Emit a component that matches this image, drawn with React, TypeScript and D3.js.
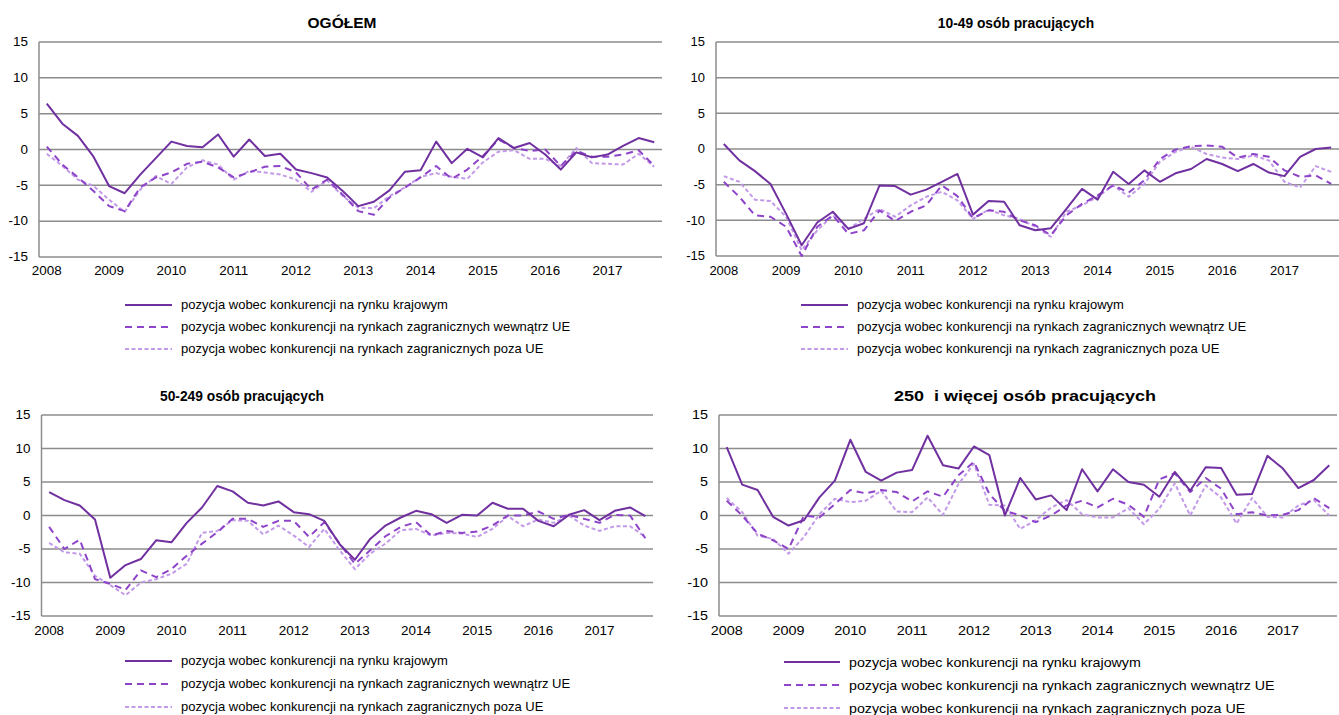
import * as d3 from "d3";

const years = ["2008", "2009", "2010", "2011", "2012", "2013", "2014", "2015", "2016", "2017"];
const quarters = years.flatMap((y) => ["I", "II", "III", "IV"].map((q) => `${q} ${y}`));
const yTicks = [-15, -10, -5, 0, 5, 10, 15];
const seriesNames = [
  "pozycja wobec konkurencji na rynku krajowym",
  "pozycja wobec konkurencji na rynkach zagranicznych wewnątrz UE",
  "pozycja wobec konkurencji na rynkach zagranicznych poza UE",
];

// OGÓŁEM
const ogolemKraj = [6.4, 3.6, 1.9, -1.0, -5.1, -6.1, -3.5, -1.2, 1.1, 0.5, 0.3, 2.1, -1.0, 1.4, -0.9, -0.6, -2.8, -3.3, -3.9, -5.8,
  -7.9, -7.3, -5.7, -3.1, -2.9, 1.1, -1.9, 0.1, -1.1, 1.6, 0.2, 0.9, -0.7, -2.8, -0.4, -1.1, -0.7, 0.5, 1.6, 1.0];
const ogolemUE = [0.4, -2.1, -3.9, -5.8, -7.9, -8.6, -5.3, -3.9, -3.2, -2.0, -1.7, -2.5, -3.9, -3.2, -2.4, -2.3, -3.2, -5.6, -4.2, -6.3,
  -8.6, -9.1, -6.7, -5.3, -3.9, -2.3, -4.1, -2.8, -0.9, 1.4, 0.2, -0.2, 0.0, -2.3, -0.2, -1.0, -1.0, -0.7, -0.1, -2.3];
const ogolemPozaUE = [-0.6, -2.3, -4.2, -5.1, -7.0, -8.7, -5.6, -3.7, -4.8, -2.5, -1.5, -2.1, -4.2, -3.0, -3.2, -3.5, -4.2, -5.9, -4.3, -6.5,
  -8.1, -8.2, -6.5, -5.3, -3.8, -3.3, -3.8, -4.1, -1.8, -0.3, -0.1, -1.3, -1.3, -2.3, 0.2, -1.9, -2.0, -2.1, -0.6, -2.4];

// 10-49 osób pracujących
const maleKraj = [0.7, -1.6, -3.1, -4.9, -9.1, -13.5, -10.3, -8.8, -11.2, -10.4, -5.1, -5.2, -6.4, -5.7, -4.6, -3.5, -9.2, -7.3, -7.4, -10.7,
  -11.4, -11.1, -8.4, -5.6, -7.1, -3.2, -4.9, -3.0, -4.6, -3.4, -2.8, -1.4, -2.1, -3.1, -2.1, -3.3, -3.8, -1.1, 0.0, 0.2];
const maleUE = [-4.6, -6.7, -9.3, -9.5, -10.9, -15.0, -10.9, -9.3, -11.9, -11.4, -8.6, -10.1, -8.8, -7.9, -5.1, -6.6, -9.7, -8.6, -8.8, -10.0,
  -10.7, -12.1, -9.3, -7.7, -6.5, -5.1, -6.1, -4.4, -1.4, -0.1, 0.4, 0.5, 0.3, -1.2, -0.7, -1.1, -3.0, -3.9, -3.7, -4.9];
const malePozaUE = [-3.8, -4.6, -7.1, -7.3, -9.5, -14.2, -11.4, -9.3, -11.2, -9.8, -8.4, -9.5, -7.9, -6.7, -6.0, -7.2, -9.8, -8.5, -9.3, -9.8,
  -10.9, -12.3, -8.8, -7.9, -6.7, -5.1, -6.7, -4.9, -1.8, -0.4, 0.3, -0.7, -1.2, -1.4, -0.9, -1.6, -4.6, -5.4, -2.4, -3.2];

// 50-249 osób pracujących
const srednieKraj = [3.5, 2.3, 1.5, -0.6, -9.3, -7.4, -6.5, -3.7, -4.0, -1.1, 1.2, 4.4, 3.6, 1.9, 1.5, 2.1, 0.5, 0.2, -0.8, -4.3,
  -6.6, -3.5, -1.5, -0.3, 0.7, 0.2, -1.1, 0.1, 0.0, 1.9, 1.0, 1.0, -0.8, -1.6, 0.1, 0.8, -0.7, 0.7, 1.2, -0.1];
const srednieUE = [-1.7, -5.0, -3.6, -9.5, -10.2, -11.1, -8.2, -9.2, -8.0, -6.0, -4.2, -2.5, -0.5, -0.5, -1.7, -0.8, -0.8, -3.2, -1.0, -4.2,
  -7.2, -5.2, -3.1, -1.7, -1.0, -3.0, -2.3, -2.6, -2.4, -1.5, 0.0, 0.0, 0.6, -0.5, 0.1, -0.5, -1.1, 0.1, 0.0, -3.4];
const sredniePozaUE = [-4.1, -5.5, -5.7, -9.0, -10.4, -11.9, -10.0, -9.5, -8.7, -7.2, -2.6, -2.3, -0.7, -0.8, -2.8, -1.5, -3.0, -4.7, -2.0, -5.2,
  -8.0, -5.7, -4.2, -2.2, -2.0, -3.0, -2.6, -2.7, -3.2, -2.0, -0.1, -1.6, -0.6, -1.1, 0.0, -1.5, -2.3, -1.6, -1.6, -3.2];

// 250 i więcej osób pracujących
const duzeKraj = [10.2, 4.6, 3.8, -0.2, -1.5, -0.7, 2.7, 5.2, 11.3, 6.5, 5.2, 6.4, 6.8, 11.9, 7.5, 7.0, 10.3, 9.0, 0.0, 5.6,
  2.4, 3.0, 0.8, 6.9, 3.6, 6.9, 5.0, 4.6, 2.8, 6.5, 3.7, 7.2, 7.1, 3.1, 3.2, 8.9, 7.0, 4.1, 5.3, 7.5];
const duzeUE = [2.2, 0.0, -2.7, -3.7, -5.0, 0.0, -0.3, 1.7, 3.8, 3.3, 3.8, 3.5, 2.1, 3.6, 2.8, 6.0, 8.0, 3.2, 0.7, 0.0,
  -1.0, 0.0, 1.5, 2.2, 1.2, 2.5, 1.6, -0.2, 5.4, 6.3, 3.5, 5.6, 4.0, 0.2, 0.5, 0.0, 0.1, 0.8, 2.6, 1.1];
const duzePozaUE = [2.6, 0.5, -3.0, -3.5, -5.7, -3.2, 0.2, 2.5, 2.0, 2.2, 3.7, 0.6, 0.5, 2.7, 0.1, 4.7, 7.7, 1.6, 1.5, -2.0,
  -0.7, 1.2, 2.3, 0.2, -0.3, -0.3, 1.1, -1.3, 1.0, 4.8, 0.0, 4.5, 2.7, -1.2, 2.6, -0.2, -0.3, 1.5, 2.3, 0.0];

const seriesStyles = [
  { color: "#7030a0", dash: "none" },
  { color: "#8e44c9", dash: "7,5" },
  { color: "#c39ae8", dash: "4,2.5" },
];

const FONT = "'Liberation Sans', Arial, Helvetica, sans-serif";

interface TextStyle {
  size: number;
  sx: number;
}

interface PanelProps {
  title: string;
  series: number[][];
  left: number;
  right: number;
  top: number;
  bottom: number;
  titleX: number;
  titleY: number;
  titleFont: TextStyle;
  tickFont: TextStyle;
  legendFont: TextStyle;
  legendX: number;
  legendLineW: number;
  legendYs: number[];
  labelY: number;
}

// text squeezed/stretched horizontally like the source image
function T(props: {
  x: number;
  y: number;
  f: TextStyle;
  anchor?: string;
  bold?: boolean;
  dy?: string;
  children: any;
}) {
  return (
    <text
      transform={`translate(${props.x},${props.y}) scale(${props.f.sx},1)`}
      textAnchor={props.anchor || "start"}
      fontSize={props.f.size}
      fontWeight={props.bold ? "bold" : "normal"}
      dy={props.dy}
      fill="#000"
      style={{ whiteSpace: "pre" }}
    >
      {props.children}
    </text>
  );
}

function Panel(p: PanelProps) {
  const x = d3.scalePoint<string>().domain(quarters).range([p.left, p.right]).padding(0.5);
  const y = d3.scaleLinear().domain([-15, 15]).range([p.bottom, p.top]);
  const line = d3
    .line<number>()
    .x((_, i) => x(quarters[i]) as number)
    .y((d) => y(d));

  return (
    <g>
      <T x={p.titleX} y={p.titleY} f={p.titleFont} anchor="middle" bold>
        {p.title}
      </T>
      {/* gridlines */}
      {yTicks.map((t) => (
        <line key={t} x1={p.left} x2={p.right} y1={y(t)} y2={y(t)} stroke="#8c8c8c" strokeWidth={1.5} />
      ))}
      <line x1={p.left} x2={p.left} y1={p.top} y2={p.bottom} stroke="#8c8c8c" strokeWidth={1.5} />
      {yTicks.map((t) => (
        <T key={t} x={p.left - 11} y={y(t)} dy="0.35em" anchor="end" f={p.tickFont}>
          {t}
        </T>
      ))}
      {years.map((yr) => (
        <T key={yr} x={x(`I ${yr}`) as number} y={p.labelY} anchor="middle" f={p.tickFont}>
          {yr}
        </T>
      ))}
      {p.series
        .map((s, i) => ({ s, i }))
        .reverse()
        .map(({ s, i }) => (
          <path
            key={i}
            d={line(s) || ""}
            fill="none"
            stroke={seriesStyles[i].color}
            strokeWidth={2}
            strokeDasharray={seriesStyles[i].dash}
            strokeLinejoin="round"
          />
        ))}
      {seriesNames.map((name, i) => (
        <g key={name}>
          <line
            x1={p.legendX}
            x2={p.legendX + p.legendLineW}
            y1={p.legendYs[i]}
            y2={p.legendYs[i]}
            stroke={seriesStyles[i].color}
            strokeWidth={2}
            strokeDasharray={seriesStyles[i].dash}
          />
          <T x={p.legendX + p.legendLineW + 9} y={p.legendYs[i]} dy="0.35em" f={p.legendFont}>
            {name}
          </T>
        </g>
      ))}
    </g>
  );
}

export default function App() {
  return (
    <svg
      width={1339}
      height={715}
      style={{ position: "absolute", left: 0, top: 0, background: "#fff", fontFamily: FONT }}
    >
      <rect width={1339} height={715} fill="#fff" />
      <Panel
        title="OGÓŁEM"
        series={[ogolemKraj, ogolemUE, ogolemPozaUE]}
        left={39}
        right={662}
        top={42}
        bottom={257}
        titleX={342}
        titleY={27.5}
        titleFont={{ size: 15.5, sx: 1 }}
        tickFont={{ size: 12, sx: 1.12 }}
        legendFont={{ size: 12, sx: 1.085 }}
        legendX={125}
        legendLineW={47}
        legendYs={[305, 327, 349]}
        labelY={275}
      />
      <Panel
        title="10-49 osób pracujących"
        series={[maleKraj, maleUE, malePozaUE]}
        left={716}
        right={1339}
        top={42}
        bottom={256}
        titleX={1016}
        titleY={27.5}
        titleFont={{ size: 15, sx: 0.92 }}
        tickFont={{ size: 12, sx: 1.08 }}
        legendFont={{ size: 12, sx: 1.085 }}
        legendX={801}
        legendLineW={47}
        legendYs={[305, 327, 349]}
        labelY={275}
      />
      <Panel
        title="50-249 osób pracujących"
        series={[srednieKraj, srednieUE, sredniePozaUE]}
        left={41.5}
        right={653}
        top={415}
        bottom={616}
        titleX={242}
        titleY={400.5}
        titleFont={{ size: 15, sx: 0.92 }}
        tickFont={{ size: 12, sx: 1.12 }}
        legendFont={{ size: 12, sx: 1.085 }}
        legendX={125}
        legendLineW={47}
        legendYs={[661, 684, 707]}
        labelY={635}
      />
      <Panel
        title="250  i więcej osób pracujących"
        series={[duzeKraj, duzeUE, duzePozaUE]}
        left={719}
        right={1337}
        top={415}
        bottom={616}
        titleX={1025}
        titleY={400.5}
        titleFont={{ size: 15, sx: 1.2 }}
        tickFont={{ size: 12, sx: 1.2 }}
        legendFont={{ size: 13, sx: 1.095 }}
        legendX={784}
        legendLineW={56}
        legendYs={[662, 685, 708]}
        labelY={635}
      />
    </svg>
  );
}
